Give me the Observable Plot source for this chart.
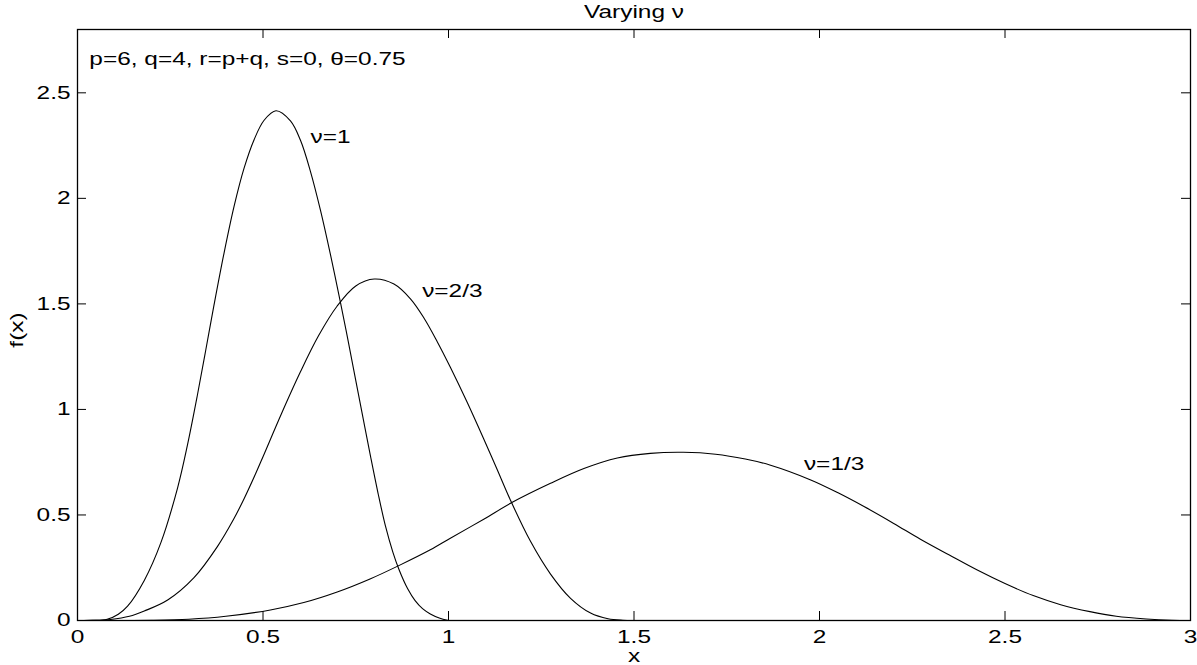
<!DOCTYPE html>
<html>
<head>
<meta charset="utf-8">
<script src="https://cdn.jsdelivr.net/npm/d3@7"></script>
<script src="https://cdn.jsdelivr.net/npm/@observablehq/plot@0.6"></script>
<style>
  html, body { margin: 0; padding: 0; background: #fff; overflow: hidden; }
  #chart svg { display: block; }
</style>
</head>
<body>
<div id="chart"></div>
<script>
// ---- data ----
const xTicks = [0, 0.5, 1, 1.5, 2, 2.5, 3];
const xTickLabels = ["0", "0.5", "1", "1.5", "2", "2.5", "3"];
const yTicks = [0, 0.5, 1, 1.5, 2, 2.5];
const yTickLabels = ["0", "0.5", "1", "1.5", "2", "2.5"];

// nu = 1
const nu1X = [0, 0.04, 0.08, 0.11, 0.135, 0.18, 0.225, 0.27, 0.296, 0.323, 0.346, 0.368, 0.395, 0.422, 0.449, 0.476, 0.503, 0.535, 0.574, 0.601, 0.628, 0.655, 0.682, 0.709, 0.73, 0.75, 0.77, 0.79, 0.81, 0.83, 0.85, 0.866, 0.89, 0.91, 0.93, 0.951, 0.975, 1.0];
const nu1Y = [0, 0.0005, 0.006, 0.03, 0.068, 0.19, 0.37, 0.63, 0.828, 1.066, 1.284, 1.495, 1.741, 1.962, 2.143, 2.278, 2.37, 2.415, 2.367, 2.275, 2.127, 1.943, 1.732, 1.505, 1.32, 1.138, 0.956, 0.776, 0.604, 0.448, 0.324, 0.244, 0.15, 0.094, 0.056, 0.031, 0.012, 0];

// nu = 2/3
const nu23X = [0, 0.05, 0.089, 0.14, 0.18, 0.243, 0.314, 0.377, 0.42, 0.449, 0.48, 0.5, 0.55, 0.6, 0.65, 0.7, 0.75, 0.8, 0.853, 0.898, 0.935, 0.97, 1.005, 1.05, 1.095, 1.13, 1.167, 1.221, 1.275, 1.329, 1.383, 1.43, 1.47, 1.5];
const nu23Y = [0, 0.0006, 0.005, 0.02, 0.045, 0.097, 0.203, 0.35, 0.477, 0.577, 0.695, 0.776, 0.981, 1.175, 1.35, 1.49, 1.585, 1.618, 1.594, 1.523, 1.43, 1.32, 1.2, 1.035, 0.86, 0.72, 0.57, 0.375, 0.22, 0.105, 0.035, 0.008, 0.001, 0];

// nu = 1/3
const nu13X = [0, 0.1, 0.2, 0.3, 0.4, 0.52, 0.61, 0.7, 0.79, 0.866, 0.951, 1.005, 1.095, 1.172, 1.275, 1.365, 1.455, 1.544, 1.633, 1.72, 1.8, 1.866, 1.978, 2.05, 2.12, 2.2, 2.272, 2.35, 2.424, 2.5, 2.576, 2.65, 2.729, 2.8, 2.881, 2.95, 3.0];
const nu13Y = [0, 0.0001, 0.001, 0.006, 0.02, 0.05, 0.085, 0.135, 0.198, 0.26, 0.335, 0.39, 0.48, 0.56, 0.65, 0.72, 0.77, 0.792, 0.797, 0.788, 0.765, 0.737, 0.665, 0.605, 0.54, 0.46, 0.385, 0.31, 0.24, 0.175, 0.118, 0.075, 0.042, 0.02, 0.007, 0.001, 0];

const curveLabels = ["ν=1", "ν=2/3", "ν=1/3"];
const curveLabelX = [0.628, 0.929, 1.958];
const curveLabelY = [2.29, 1.559, 0.742];

const annotationText = "p=6, q=4, r=p+q, s=0, θ=0.75";
const annotationX = 0.032;
const annotationY = 2.66;

const titleText = "Varying ν";
const xLabel = "x";
const yLabel = "f(x)";

// ---- build tables ----
const toRows = (xs, ys, name) => xs.map((x, i) => ({x, y: ys[i], series: name}));
const curves = [
  ...toRows(nu1X, nu1Y, "1"),
  ...toRows(nu23X, nu23Y, "2/3"),
  ...toRows(nu13X, nu13Y, "1/3")
];
const labelRows = curveLabels.map((t, i) => ({t, x: curveLabelX[i], y: curveLabelY[i]}));

const W = 1197, H = 665;
const mL = 77, mR = 7, mT = 29, mB = 45;
const innerW = W - mL - mR, innerH = H - mT - mB;
const tickLen = 9;

const chart = Plot.plot({
  width: W,
  height: H,
  marginLeft: mL,
  marginRight: mR,
  marginTop: mT,
  marginBottom: mB,
  x: {domain: [0, 3], axis: null},
  y: {domain: [0, 2.8], axis: null},
  style: {
    fontFamily: "'Liberation Sans', Arial, Helvetica, sans-serif",
    fontSize: "18.5px",
    background: "#fff",
    color: "#000",
    overflow: "visible"
  },
  marks: [
    Plot.line(curves, {x: "x", y: "y", z: "series", stroke: "#000", strokeWidth: 1.1, curve: "catmull-rom"}),
    // inward ticks
    Plot.ruleX(xTicks, {x: d => d, insetTop: innerH - tickLen, stroke: "#000"}),
    Plot.ruleX(xTicks, {x: d => d, insetBottom: innerH - tickLen, stroke: "#000"}),
    Plot.ruleY(yTicks, {y: d => d, insetRight: innerW - tickLen, stroke: "#000"}),
    Plot.ruleY(yTicks, {y: d => d, insetLeft: innerW - tickLen, stroke: "#000"}),
    Plot.frame({stroke: "#000", strokeWidth: 1.3}),
    // tick labels
    Plot.text(xTicks, {x: d => d, text: (d, i) => xTickLabels[i], frameAnchor: "bottom", lineAnchor: "top", dy: 9, fill: "#000"}),
    Plot.text(yTicks, {y: d => d, text: (d, i) => yTickLabels[i], frameAnchor: "left", textAnchor: "end", lineAnchor: "middle", dx: -7, fill: "#000"}),
    // curve labels
    Plot.text(labelRows, {x: "x", y: "y", text: "t", textAnchor: "start", fill: "#000"}),
    Plot.text([annotationText], {x: () => annotationX, y: () => annotationY, text: d => d, textAnchor: "start", fill: "#000"}),
    // title and axis labels
    Plot.text([titleText], {frameAnchor: "top", lineAnchor: "middle", textAnchor: "middle", dy: -17, text: d => d, fill: "#000"}),
    Plot.text([xLabel], {frameAnchor: "bottom", lineAnchor: "middle", textAnchor: "middle", dy: 36, text: d => d, fill: "#000"}),
    Plot.text([yLabel], {frameAnchor: "left", lineAnchor: "middle", textAnchor: "middle", dx: -60, dy: 5, rotate: -90, text: d => d, fill: "#000"})
  ]
});

// the reference font is horizontally stretched; widen each text about its anchor
const stretch = 1.32;
chart.querySelectorAll("text").forEach(t => {
  const x = parseFloat(t.getAttribute("x")) || 0;
  const tr = t.getAttribute("transform") || "";
  t.setAttribute("transform", `${tr} translate(${x},0) scale(${stretch},1) translate(${-x},0)`);
});

document.getElementById("chart").appendChild(chart);
</script>
</body>
</html>
